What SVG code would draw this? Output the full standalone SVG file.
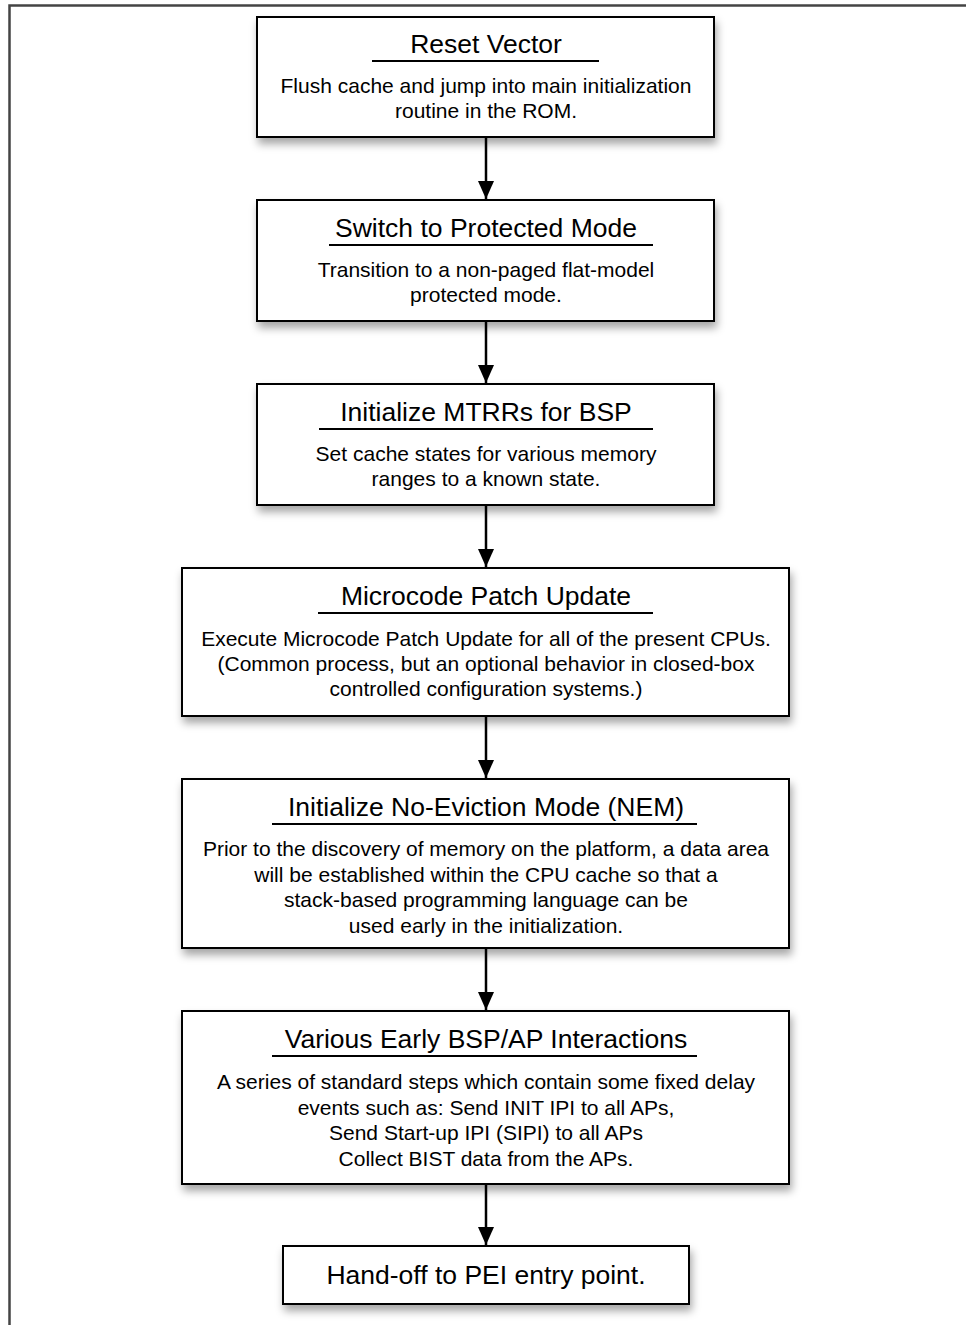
<svg xmlns="http://www.w3.org/2000/svg" width="966" height="1325" viewBox="0 0 966 1325">
<defs>
<style>
.box{fill:#fff;stroke:#000;stroke-width:2;filter:url(#sh)}
.t{font-family:"Liberation Sans",Arial,sans-serif;font-size:26.5px;text-anchor:middle;fill:#000}
.b{font-family:"Liberation Sans",Arial,sans-serif;font-size:21px;text-anchor:middle;fill:#000}
.ul{stroke:#000;stroke-width:2}
.conn{stroke:#000;stroke-width:2.5;fill:none;marker-end:url(#ah)}
.frame{stroke:#444;stroke-width:2.5;fill:none}
</style>
<filter id="sh" x="-10%" y="-20%" width="120%" height="150%">
<feDropShadow dx="2" dy="6" stdDeviation="4" flood-color="#000" flood-opacity="0.35"/>
</filter>
<marker id="ah" markerWidth="18" markerHeight="16" refX="18" refY="8" orient="auto" markerUnits="userSpaceOnUse" viewBox="0 0 18 16">
<path d="M0,0 L18,8 L0,16 Z" fill="#000"/>
</marker>
</defs>
<rect width="966" height="1325" fill="#fff"/>
<path class="frame" d="M9.5,1325 L9.5,5.5 L966,5.5"/>
<g id="connectors">
<line class="conn" x1="486" y1="137" x2="486" y2="199"/>
<line class="conn" x1="486" y1="321" x2="486" y2="383"/>
<line class="conn" x1="486" y1="505" x2="486" y2="567"/>
<line class="conn" x1="486" y1="716" x2="486" y2="778"/>
<line class="conn" x1="486" y1="948" x2="486" y2="1010"/>
<line class="conn" x1="486" y1="1184" x2="486" y2="1245"/>
</g>
<g id="reset-vector">
<rect class="box" x="257" y="17" width="457" height="120"/>
<text class="t" x="486" y="53">Reset Vector</text>
<line class="ul" x1="372" y1="61" x2="599" y2="61"/>
<text class="b" x="486" y="93">Flush cache and jump into main initialization</text>
<text class="b" x="486" y="118">routine in the ROM.</text>
</g>
<g id="protected-mode">
<rect class="box" x="257" y="200" width="457" height="121"/>
<text class="t" x="486" y="237">Switch to Protected Mode</text>
<line class="ul" x1="329" y1="245" x2="653" y2="245"/>
<text class="b" x="486" y="277">Transition to a non-paged flat-model</text>
<text class="b" x="486" y="302">protected mode.</text>
</g>
<g id="mtrrs">
<rect class="box" x="257" y="384" width="457" height="121"/>
<text class="t" x="486" y="421">Initialize MTRRs for BSP</text>
<line class="ul" x1="319" y1="429" x2="653" y2="429"/>
<text class="b" x="486" y="461">Set cache states for various memory</text>
<text class="b" x="486" y="486">ranges to a known state.</text>
</g>
<g id="microcode">
<rect class="box" x="182" y="568" width="607" height="148"/>
<text class="t" x="486" y="605">Microcode Patch Update</text>
<line class="ul" x1="318" y1="613" x2="653" y2="613"/>
<text class="b" x="486" y="646">Execute Microcode Patch Update for all of the present CPUs.</text>
<text class="b" x="486" y="671">(Common process, but an optional behavior in closed-box</text>
<text class="b" x="486" y="696">controlled configuration systems.)</text>
</g>
<g id="nem">
<rect class="box" x="182" y="779" width="607" height="169"/>
<text class="t" x="486" y="816">Initialize No-Eviction Mode (NEM)</text>
<line class="ul" x1="272" y1="824" x2="697" y2="824"/>
<text class="b" x="486" y="856">Prior to the discovery of memory on the platform, a data area</text>
<text class="b" x="486" y="881.5">will be established within the CPU cache so that a</text>
<text class="b" x="486" y="907">stack-based programming language can be</text>
<text class="b" x="486" y="932.5">used early in the initialization.</text>
</g>
<g id="bsp-ap">
<rect class="box" x="182" y="1011" width="607" height="173"/>
<text class="t" x="486" y="1048">Various Early BSP/AP Interactions</text>
<line class="ul" x1="272" y1="1056" x2="697" y2="1056"/>
<text class="b" x="486" y="1089">A series of standard steps which contain some fixed delay</text>
<text class="b" x="486" y="1114.5">events such as: Send INIT IPI to all APs,</text>
<text class="b" x="486" y="1140">Send Start-up IPI (SIPI) to all APs</text>
<text class="b" x="486" y="1165.5">Collect BIST data from the APs.</text>
</g>
<g id="pei-handoff">
<rect class="box" x="283" y="1246" width="406" height="58"/>
<text class="t" x="486" y="1284">Hand-off to PEI entry point.</text>
</g>
</svg>
